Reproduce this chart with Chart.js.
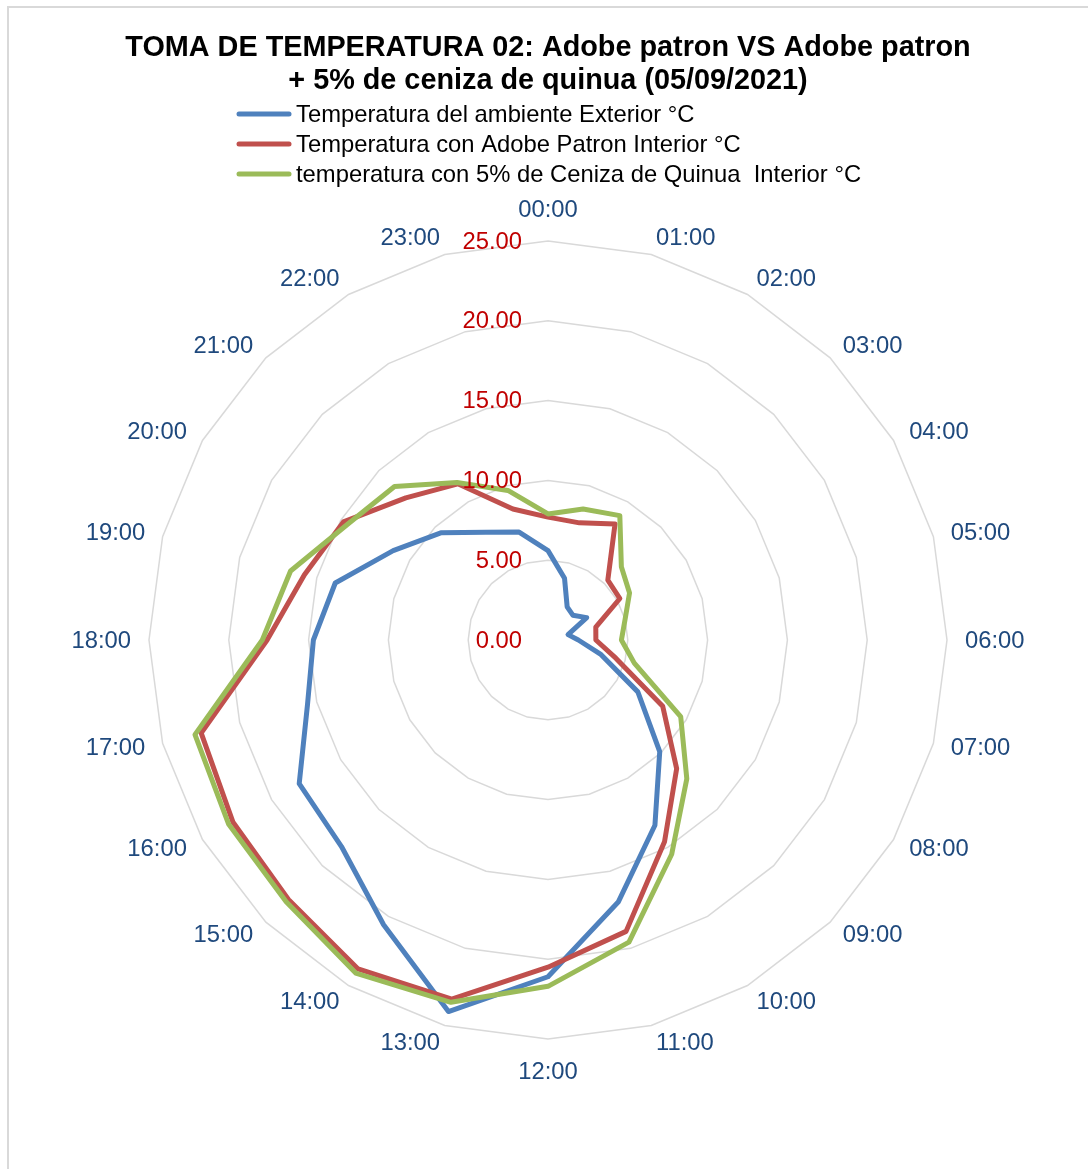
<!DOCTYPE html>
<html>
<head>
<meta charset="utf-8">
<title>Toma de temperatura 02</title>
<script src="https://cdn.jsdelivr.net/npm/chart.js@4/dist/chart.umd.min.js"></script>
<style>
  html, body { margin: 0; padding: 0; background: #ffffff; overflow: hidden; }
  #wrap { position: relative; width: 1088px; height: 1169px; }
  canvas { display: block; }
</style>
</head>
<body>
<div id="wrap"><canvas id="chart" width="1088" height="1169"></canvas></div>
<script>
// Hourly readings, 05/09/2021
const hours = ['00:00', '01:00', '02:00', '03:00', '04:00', '05:00', '06:00', '07:00',
               '08:00', '09:00', '10:00', '11:00', '12:00', '13:00', '14:00', '15:00',
               '16:00', '17:00', '18:00', '19:00', '20:00', '21:00', '22:00', '23:00'];

const exterior = [5.6, 4.0, 2.4, 2.2, 2.8, 1.3, 1.9, 3.4, 6.5, 9.9, 13.4, 17.0,
                  21.1, 24.1, 20.6, 18.3, 18.0, 15.6, 14.7, 13.8, 11.2, 9.5, 7.8, 7.0];

const adobePatron = [7.7, 7.6, 8.4, 5.3, 5.2, 3.1, 3.0, 4.4, 8.3, 11.4, 14.6, 18.9,
                     20.5, 23.3, 23.8, 23.0, 22.8, 22.5, 17.6, 15.8, 14.8, 12.6, 11.3, 8.5];

const cenizaQuinua = [7.9, 8.5, 9.0, 6.5, 5.9, 5.0, 4.6, 5.6, 9.6, 12.3, 15.5, 19.6,
                      21.7, 23.5, 24.1, 23.2, 23.1, 22.9, 17.9, 16.7, 14.5, 13.6, 11.4, 9.7];

const seriesNames = [
  'Temperatura del ambiente Exterior °C',
  'Temperatura con Adobe Patron Interior °C',
  'temperatura con 5% de Ceniza de Quinua  Interior °C'
];

const scaleMin = 0;
const scaleMax = 25;
const scaleStep = 5;

const titleLines = [
  'TOMA DE TEMPERATURA 02: Adobe patron VS Adobe patron',
  '+ 5% de ceniza de quinua (05/09/2021)'
];

const FONT = '"Liberation Sans", Arial, Helvetica, sans-serif';
const TEXT_SIZE = 23.8;

// Frame, legend, hour labels and value labels drawn around the radar scale
const decorations = {
  id: 'decorations',
  beforeDraw(chart) {
    const ctx = chart.ctx;
    ctx.save();
    ctx.fillStyle = '#ffffff';
    ctx.fillRect(0, 0, chart.width, chart.height);
    ctx.strokeStyle = '#D9D9D9';
    ctx.lineWidth = 2;
    ctx.strokeRect(8, 7, chart.width + 20, chart.height + 20);
    ctx.restore();
  },
  afterDraw(chart) {
    const ctx = chart.ctx;
    const r = chart.scales.r;
    ctx.save();

    // legend: one entry per row, left aligned
    ctx.font = TEXT_SIZE + 'px ' + FONT;
    ctx.textBaseline = 'middle';
    ctx.textAlign = 'left';
    chart.data.datasets.forEach((ds, i) => {
      const y = 114 + i * 30;
      ctx.strokeStyle = ds.borderColor;
      ctx.lineWidth = 5;
      ctx.lineCap = 'round';
      ctx.beginPath();
      ctx.moveTo(239, y);
      ctx.lineTo(289, y);
      ctx.stroke();
      ctx.fillStyle = '#000000';
      ctx.fillText(ds.label, 296, y + 1);
    });

    // hour labels around the outer ring
    ctx.fillStyle = '#1F497D';
    const n = chart.data.labels.length;
    chart.data.labels.forEach((lab, i) => {
      const deg = i * 360 / n;
      const vertical = (deg === 0 || deg === 180);
      const p = r.getPointPosition(i, r.drawingArea + (vertical ? 32 : 18));
      ctx.textAlign = vertical ? 'center' : (deg < 180 ? 'left' : 'right');
      ctx.textBaseline = 'middle';
      ctx.fillText(lab, p.x, p.y + 1);
    });

    // value labels along the vertical axis
    ctx.fillStyle = '#C00000';
    ctx.textAlign = 'right';
    r.ticks.forEach(t => {
      const d = r.getDistanceFromCenterForValue(t.value);
      ctx.fillText(t.value.toFixed(2), r.xCenter - 26, r.yCenter - d + 1);
    });

    ctx.restore();
  }
};

new Chart(document.getElementById('chart'), {
  type: 'radar',
  data: {
    labels: hours,
    datasets: [
      { label: seriesNames[0], data: exterior, borderColor: '#4F81BD', order: 2 },
      { label: seriesNames[1], data: adobePatron, borderColor: '#C0504D', order: 1 },
      { label: seriesNames[2], data: cenizaQuinua, borderColor: '#9BBB59', order: 0 }
    ]
  },
  options: {
    responsive: false,
    animation: false,
    events: [],
    layout: { padding: { left: 8, right: 0, top: 0, bottom: 129 } },
    elements: {
      line: { borderWidth: 5, tension: 0, fill: false, borderJoinStyle: 'round' },
      point: { radius: 0, hoverRadius: 0 }
    },
    scales: {
      r: {
        min: scaleMin,
        max: scaleMax,
        beginAtZero: true,
        ticks: { stepSize: scaleStep, display: false },
        pointLabels: { display: false },
        angleLines: { display: false },
        grid: { color: '#D9D9D9', lineWidth: 1.5, circular: false }
      }
    },
    plugins: {
      legend: { display: false },
      tooltip: { enabled: false },
      title: {
        display: true,
        text: titleLines,
        color: '#000000',
        font: { family: FONT, size: 28.8, weight: 'bold', lineHeight: 1.15 },
        padding: { top: 31, bottom: 143 }
      }
    }
  },
  plugins: [decorations]
});
</script>
</body>
</html>
